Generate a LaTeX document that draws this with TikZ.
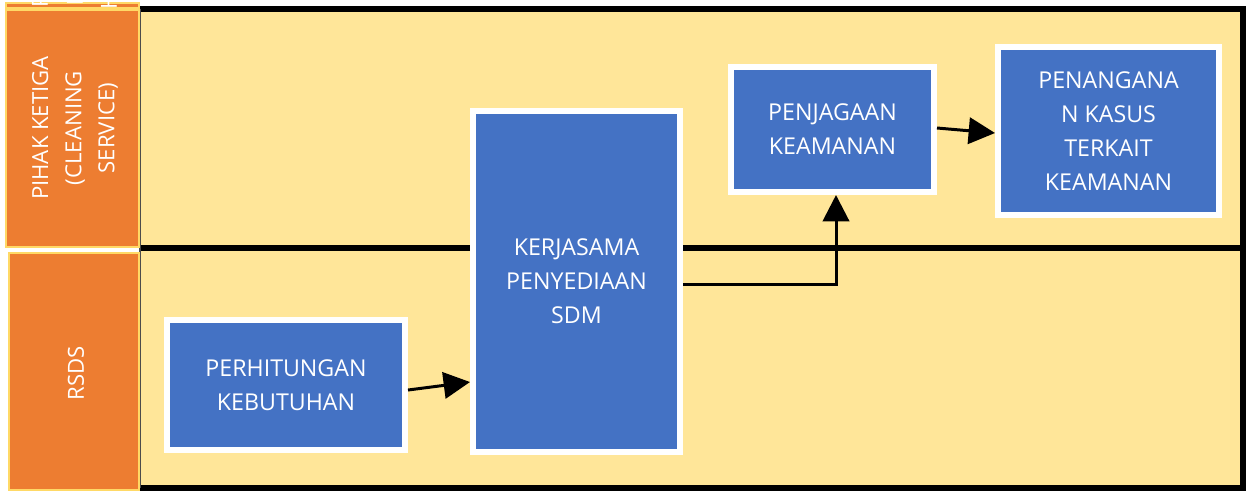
\documentclass[tikz,border=0pt]{standalone}
\usepackage{fontspec}
\setmainfont{Open Sans}
\usetikzlibrary{arrows.meta}
\definecolor{laneyellow}{HTML}{FFE699}
\definecolor{lanebord}{HTML}{FFD966}
\definecolor{orng}{HTML}{ED7D31}
\definecolor{blu}{HTML}{4472C4}
\tikzset{
  px/.style={x=0.01cm,y=-0.01cm},
  stepbox/.style={draw=white,line width=1.7pt,fill=blu,text=white,align=center,
    font=\fontsize{6.6}{9.7}\selectfont,inner sep=0pt},
  lanetext/.style={text=white,align=center,font=\fontsize{6.3}{9.4}\selectfont,rotate=90},
  laneframe/.style={draw=lanebord,line width=0.6pt,fill=orng},
  conn/.style={line width=0.85pt,-{Triangle[length=7.5pt,width=7.5pt]}},
  border/.style={line width=1.7pt,black}
}
\begin{document}
\begin{tikzpicture}[px]
\useasboundingbox (0,0) rectangle (1246,493);
\fill[white] (0,0) rectangle (1246,493);
% lanes background
\fill[laneyellow] (140,9) rectangle (1243,488);
\draw[border] (140,9) -- (1243,9) -- (1243,488) -- (140,488);
\draw[border] (140,248) -- (1243,248);
\draw[line width=0.4pt,black!70] (140,9) -- (140,488);
% top artifact strip with clipped letters
\draw[laneframe] (6,3) rectangle (139,8);
\begin{scope}
\clip (6,0) rectangle (139,9);
\node[lanetext] (art1) at (40,1) {P};
\node[lanetext] (art2) at (75,2) {I};
\node[lanetext] (art3) at (109,1) {H};
\end{scope}
% lane labels
\draw[laneframe] (6,10) rectangle (139,247);
\node[lanetext] (lane1) at (75,128) {PIHAK KETIGA\\(CLEANING\\SERVICE)};
\draw[laneframe] (9,253) rectangle (139,490);
\node[lanetext] (lane2) at (76,373) {RSDS};
% boxes
\node[stepbox,minimum width=238*0.01cm,minimum height=130*0.01cm] (b1) at (286,385)
  {PERHITUNGAN\\KEBUTUHAN};
\node[stepbox,minimum width=207*0.01cm,minimum height=341*0.01cm] (b2) at (576.5,281.5)
  {KERJASAMA\\PENYEDIAAN\\SDM};
\node[stepbox,minimum width=203*0.01cm,minimum height=125*0.01cm] (b3) at (832.5,129.5)
  {PENJAGAAN\\KEAMANAN};
\node[stepbox,minimum width=221*0.01cm,minimum height=168*0.01cm] (b4) at (1108.5,131)
  {PENANGANA\\N KASUS\\TERKAIT\\KEAMANAN};
% connectors
\draw[conn] (b1.east|-0,390) -- (b2.west|-0,382);
\draw[conn] (b2.east|-0,284) -| (b3.south-|836,0);
\draw[conn] (b3.east|-0,128) -- (b4.west|-0,133);
\end{tikzpicture}
\end{document}
